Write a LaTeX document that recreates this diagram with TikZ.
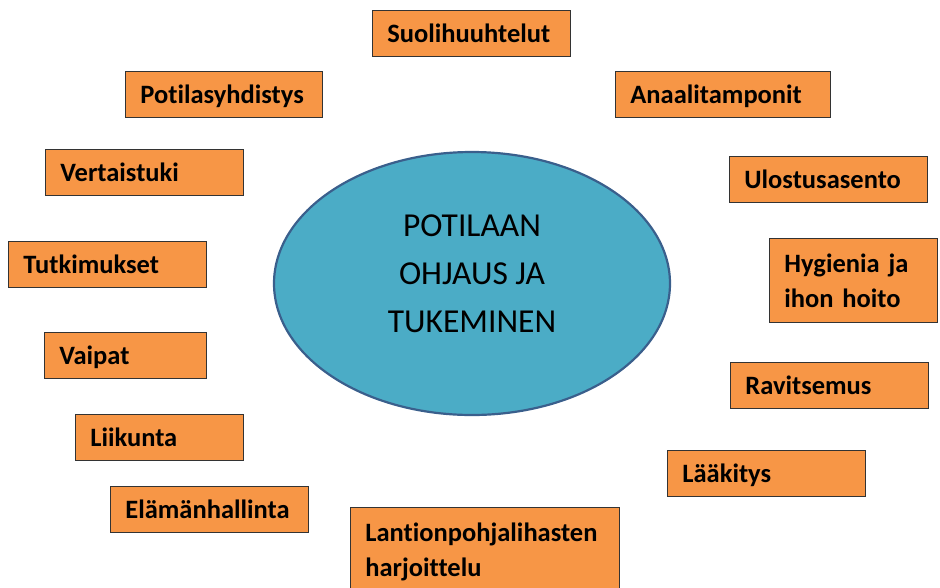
\documentclass[tikz,border=0pt]{standalone}
\usepackage{fontspec}
\setmainfont[Ligatures=CommonOff]{Carlito}
\usetikzlibrary{shapes.geometric}

\definecolor{aiheoranssi}{HTML}{F79646}
\definecolor{keskussininen}{HTML}{4BACC6}
\definecolor{keskusreuna}{HTML}{3A5F8C}

\tikzstyle{aihe} = [rectangle, draw=black!80, fill=aiheoranssi, line width=0.8pt, anchor=north west, minimum height=46pt, inner xsep=15pt, inner ysep=4pt, align=left, font=\bfseries\fontsize{26.5}{35}\selectfont]
\tikzstyle{rivi} = [aihe, text height=22pt, text depth=4pt]
\tikzstyle{keskus} = [ellipse, draw=keskusreuna, fill=keskussininen, line width=2.2pt, minimum width=396pt, minimum height=263pt, inner sep=0pt, align=center, text depth=20pt, font=\fontsize{33.5}{48}\selectfont]

\begin{document}
\begin{tikzpicture}[x=1pt, y=-1pt]
\useasboundingbox (0,0) rectangle (940,587);
%keskus
\node[keskus] (ohjaus) at (472,283.5) {POTILAAN\\OHJAUS JA\\TUKEMINEN};
%begin vasen puoli
\node[rivi, text width=167pt] (potilasyhd) at (125,71) {Potilasyhdistys};
\node[rivi, text width=168pt] (vertais) at (45,149) {Vertaistuki};
\node[rivi, text width=168pt] (tutkim) at (8,241) {Tutkimukset};
\node[rivi, text width=132pt] (vaipat) at (44,332) {Vaipat};
\node[rivi, text width=138pt] (liikunta) at (75,414) {Liikunta};
\node[rivi, text width=168pt] (elamanh) at (110,486) {Elämänhallinta};
%end vasen puoli
%begin oikea puoli
\node[rivi, text width=168pt] (suoli) at (372,10) {Suolihuuhtelut};
\node[rivi, text width=185pt] (anaali) at (615,71) {Anaalitamponit};
\node[rivi, text width=168pt] (ulostus) at (729,156) {Ulostusasento};
\node[aihe, text width=138pt, minimum height=84pt] (hygienia) at (769,238) {Hygienia ja\\ihon hoito};
\node[rivi, text width=168pt] (ravits) at (730,362) {Ravitsemus};
\node[rivi, text width=168pt] (laakitys) at (667,450) {Lääkitys};
\node[aihe, text width=239pt, minimum height=90pt] (lantion) at (350,507) {Lantionpohjalihasten\\harjoittelu};
%end oikea puoli
\end{tikzpicture}
\end{document}
